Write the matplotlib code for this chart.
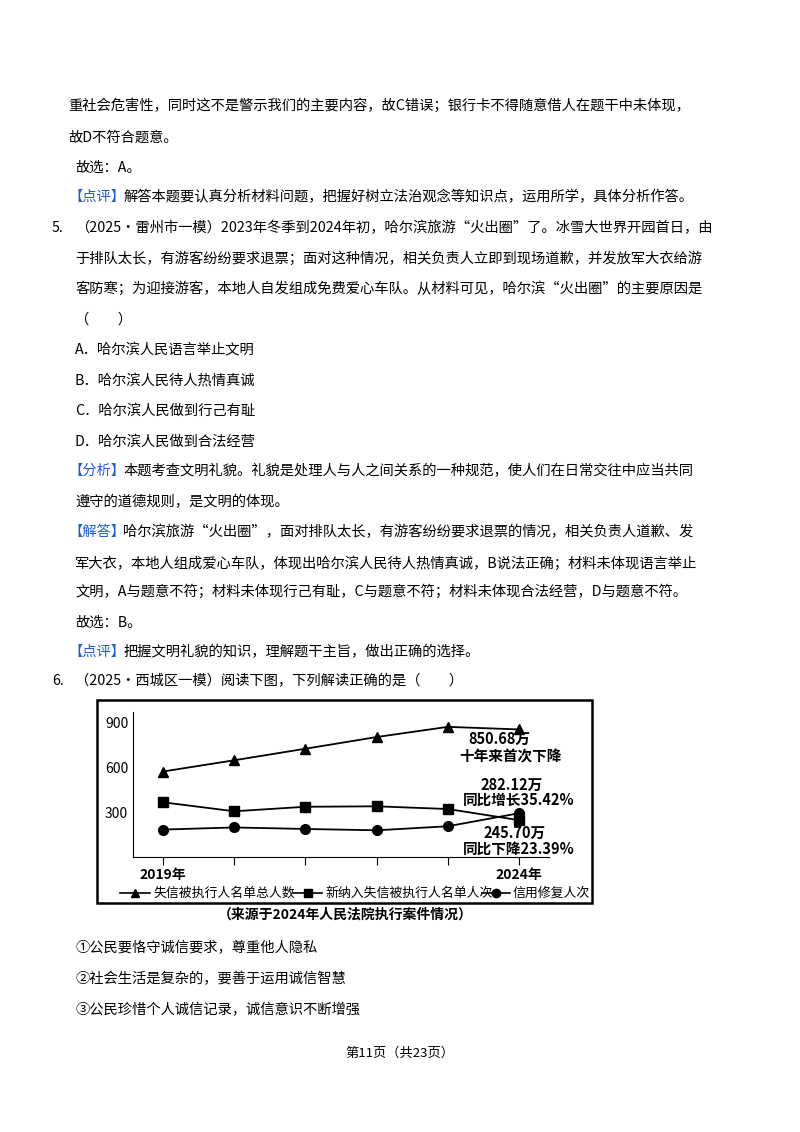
import matplotlib
matplotlib.use('Agg')
import matplotlib.pyplot as plt
from matplotlib.patches import Rectangle

plt.rcParams['font.family'] = ['Noto Sans CJK SC', 'DejaVu Sans']

W, H = 800, 1132
years = [0, 1, 2, 3, 4, 5]
year_labels = ['2019年', '', '', '', '', '2024年']
total = [570, 645, 722, 800, 868, 850.68]
new_list = [365, 305, 335, 338, 320, 245.70]
repaired = [183, 197, 187, 178, 205, 292]

BLUE = '#1f5fd0'
fig = plt.figure(figsize=(8, 11.32), dpi=100)
FS = 10.3
CW = 13.8


def line(x, y, parts):
    # parts: list of (text, color)
    for t, c in parts:
        fig.text(x / W, 1 - y / H, t, fontsize=FS, color=c, va='center', ha='left')
        x += len(t) * CW


K = 'black'
line(68, 106, [('重社会危害性，同时这不是警示我们的主要内容，故C错误；银行卡不得随意借人在题干中未体现，', K)])
line(68, 138, [('故D不符合题意。', K)])
line(75, 168, [('故选：A。', K)])
line(68, 197, [('【点评】', BLUE), ('解答本题要认真分析材料问题，把握好树立法治观念等知识点，运用所学，具体分析作答。', K)])
line(52, 228, [('5.', K)])
line(75, 228, [('（2025•雷州市一模）2023年冬季到2024年初，哈尔滨旅游“火出圈”了。冰雪大世界开园首日，由', K)])
line(75, 259, [('于排队太长，有游客纷纷要求退票；面对这种情况，相关负责人立即到现场道歉，并发放军大衣给游', K)])
line(75, 288, [('客防寒；为迎接游客，本地人自发组成免费爱心车队。从材料可见，哈尔滨“火出圈”的主要原因是', K)])
line(75, 320, [('（　　）', K)])
line(75, 350, [('A．哈尔滨人民语言举止文明', K)])
line(75, 381, [('B．哈尔滨人民待人热情真诚', K)])
line(75, 411, [('C．哈尔滨人民做到行己有耻', K)])
line(75, 442, [('D．哈尔滨人民做到合法经营', K)])
line(68, 471, [('【分析】', BLUE), ('本题考查文明礼貌。礼貌是处理人与人之间关系的一种规范，使人们在日常交往中应当共同', K)])
line(75, 502, [('遵守的道德规则，是文明的体现。', K)])
line(68, 532, [('【解答】', BLUE), ('哈尔滨旅游“火出圈”，面对排队太长，有游客纷纷要求退票的情况，相关负责人道歉、发', K)])
line(75, 563, [('军大衣，本地人组成爱心车队，体现出哈尔滨人民待人热情真诚，B说法正确；材料未体现语言举止', K)])
line(75, 592, [('文明，A与题意不符；材料未体现行己有耻，C与题意不符；材料未体现合法经营，D与题意不符。', K)])
line(75, 623, [('故选：B。', K)])
line(68, 652, [('【点评】', BLUE), ('把握文明礼貌的知识，理解题干主旨，做出正确的选择。', K)])
line(52, 681, [('6.', K)])
line(75, 681, [('（2025•西城区一模）阅读下图，下列解读正确的是（　　）', K)])
line(75, 948, [('①公民要恪守诚信要求，尊重他人隐私', K)])
line(75, 979, [('②社会生活是复杂的，要善于运用诚信智慧', K)])
line(75, 1010, [('③公民珍惜个人诚信记录，诚信意识不断增强', K)])
fig.text(0.5, 1 - 1053 / H, '第11页（共23页）', fontsize=9.5, ha='center', va='center')

# chart frame
fig.patches.append(Rectangle((97 / W, 1 - 903 / H), (592 - 97) / W, (903 - 700) / H,
                             transform=fig.transFigure, fill=False, lw=1.8, color='black'))

ax = fig.add_axes([133 / W, 1 - 857 / H, (549 - 133) / W, (857 - 712) / H])
ax.plot(years, total, '-^', color='black', ms=7, lw=1.3)
ax.plot(years, new_list, '-s', color='black', ms=7, lw=1.3)
ax.plot(years, repaired, '-o', color='black', ms=7, lw=1.3)
ax.set_xlim(-0.42, 5.42)
ax.set_ylim(0, 967)
ax.set_yticks([300, 600, 900])
ax.set_xticks(years)
ax.set_xticklabels(year_labels, fontweight='bold', fontsize=10)
ax.tick_params(axis='y', length=0, labelsize=10)
ax.tick_params(axis='x', direction='out', length=6, pad=2)
for s in ['top', 'right']:
    ax.spines[s].set_visible(False)
ax.patch.set_alpha(0)
tb = dict(fontsize=10.5, fontweight='bold', ha='center', va='center', clip_on=False)
ax.text(4.73, 787, '850.68万', **tb)
ax.text(4.88, 673, '十年来首次下降', **tb)
ax.text(4.9, 480, '282.12万', **tb)
ax.text(4.99, 380, '同比增长35.42%', **tb)
ax.text(4.94, 160, '245.70万', **tb)
ax.text(5.0, 53, '同比下降23.39%', **tb)

# legend row
ly = 1 - 893 / H
for x0, x1, m, tx, lab in [(120, 150, '^', 153, '失信被执行人名单总人数'),
                           (293, 322, 's', 325, '新纳入失信被执行人名单人次'),
                           (482, 510, 'o', 513, '信用修复人次')]:
    fig.lines.append(plt.Line2D([x0 / W, (x0 + x1) / 2 / W, x1 / W], [ly, ly, ly], color='black',
                                lw=1.2, marker=m, markevery=[1], ms=6, transform=fig.transFigure))
    fig.text(tx / W, ly, lab, fontsize=9.3, va='center')
fig.text(345 / W, 1 - 915 / H, '（来源于2024年人民法院执行案件情况）', fontsize=10,
         fontweight='bold', ha='center', va='center')

fig.savefig('out.png', dpi=100)
